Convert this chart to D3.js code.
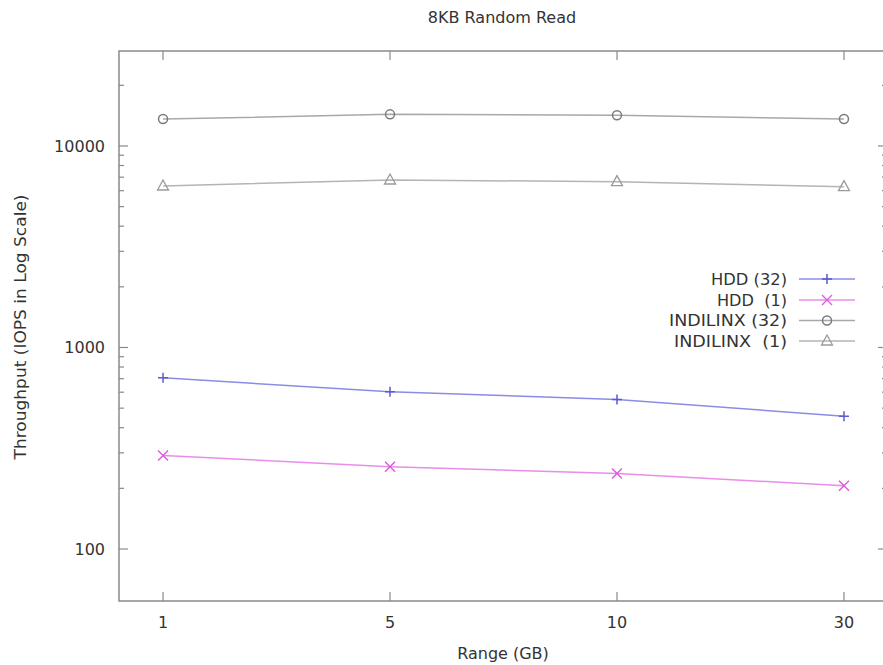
<!DOCTYPE html>
<html>
<head>
<meta charset="utf-8">
<script src="https://cdn.jsdelivr.net/npm/d3@7"></script>
<style>
  html, body { margin: 0; padding: 0; background: #fff; }
  svg { display: block; }
  text { font-family: "DejaVu Sans", sans-serif; fill: #333; }
</style>
</head>
<body>
<svg id="chart" width="883" height="665"></svg>
<script>
// ---- data ----
const categories = ["1", "5", "10", "30"];
const hdd32 = [707, 603, 552, 456];
const hdd1 = [291, 256, 237, 206];
const indilinx32 = [13600, 14350, 14200, 13600];
const indilinx1 = [6330, 6780, 6650, 6280];
const yMajorTicks = [100, 1000, 10000];
const yMinorTicks = [200, 300, 400, 500, 600, 700, 800, 900,
                     2000, 3000, 4000, 5000, 6000, 7000, 8000, 9000, 20000];
const seriesNames = ["HDD (32)", "HDD  (1)", "INDILINX (32)", "INDILINX  (1)"];

// ---- styling / layout ----
const series = [
  { name: seriesNames[0], values: hdd32, line: "#8c8ce6", mark: "#5a5ad2", shape: "plus" },
  { name: seriesNames[1], values: hdd1, line: "#ea8cea", mark: "#dc5adc", shape: "times" },
  { name: seriesNames[2], values: indilinx32, line: "#a8a8a8", mark: "#7a7a7a", shape: "circle" },
  { name: seriesNames[3], values: indilinx1, line: "#b4b4b4", mark: "#9a9a9a", shape: "triangle" }
];
const legendTextWidths = [76, 70, 118, 113];

const svg = d3.select("#chart");
const pL = 119, pR = 887, pT = 51, pB = 601;

const x = d3.scalePoint().domain(categories).range([pL, pR + 1]).padding(0.194);
const y = d3.scaleLog().domain([55.2, 29600]).range([pB, pT]);

// frame
svg.append("rect")
  .attr("x", pL).attr("y", pT)
  .attr("width", pR - pL).attr("height", pB - pT)
  .attr("fill", "none").attr("stroke", "#8a8a8a").attr("stroke-width", 1.5);

// y ticks (left and right, inward)
const tickG = svg.append("g").attr("stroke", "#8a8a8a").attr("stroke-width", 1.2);
function yTicks(vals, len) {
  tickG.selectAll(null).data(vals).enter().append("line")
    .attr("x1", pL).attr("x2", pL + len)
    .attr("y1", d => y(d)).attr("y2", d => y(d));
  tickG.selectAll(null).data(vals).enter().append("line")
    .attr("x1", pR).attr("x2", pR - len)
    .attr("y1", d => y(d)).attr("y2", d => y(d));
}
yTicks(yMajorTicks, 9);
yTicks(yMinorTicks, 5);

// x ticks (bottom and top, inward)
tickG.selectAll(null).data(categories).enter().append("line")
  .attr("x1", d => x(d)).attr("x2", d => x(d))
  .attr("y1", pB).attr("y2", pB - 9);
tickG.selectAll(null).data(categories).enter().append("line")
  .attr("x1", d => x(d)).attr("x2", d => x(d))
  .attr("y1", pT).attr("y2", pT + 9);

// tick labels
svg.append("g").selectAll("text").data(yMajorTicks).enter().append("text")
  .attr("x", 105).attr("y", d => y(d)).attr("dy", "0.36em")
  .attr("text-anchor", "end").attr("font-size", 16)
  .text(d => String(d));
svg.append("g").selectAll("text").data(categories).enter().append("text")
  .attr("x", d => x(d)).attr("y", 622).attr("dy", "0.36em")
  .attr("text-anchor", "middle").attr("font-size", 16)
  .text(d => d);

// titles
svg.append("text").attr("x", 502).attr("y", 17).attr("dy", "0.36em")
  .attr("text-anchor", "middle").attr("font-size", 16).text("8KB Random Read");
svg.append("text").attr("x", 503).attr("y", 653).attr("dy", "0.36em")
  .attr("text-anchor", "middle").attr("font-size", 16).text("Range (GB)");
svg.append("text")
  .attr("transform", "translate(20,327) rotate(-90)")
  .attr("dy", "0.36em")
  .attr("text-anchor", "middle").attr("font-size", 16)
  .attr("textLength", 265).attr("lengthAdjust", "spacingAndGlyphs")
  .text("Throughput (IOPS in Log Scale)");

// marker drawing
function marker(g, shape, cx, cy, color) {
  const s = 5;
  if (shape === "plus") {
    g.append("path").attr("d", `M${cx - s},${cy}H${cx + s}M${cx},${cy - s}V${cy + s}`)
      .attr("stroke", color).attr("stroke-width", 1.5).attr("fill", "none");
  } else if (shape === "times") {
    g.append("path").attr("d", `M${cx - s},${cy - s}L${cx + s},${cy + s}M${cx - s},${cy + s}L${cx + s},${cy - s}`)
      .attr("stroke", color).attr("stroke-width", 1.4).attr("fill", "none");
  } else if (shape === "circle") {
    g.append("circle").attr("cx", cx).attr("cy", cy).attr("r", 4.5)
      .attr("stroke", color).attr("stroke-width", 1.5).attr("fill", "none");
  } else if (shape === "triangle") {
    g.append("path").attr("d", `M${cx},${cy - 6}L${cx + 5.5},${cy + 4}L${cx - 5.5},${cy + 4}Z`)
      .attr("stroke", color).attr("stroke-width", 1.3).attr("fill", "none");
  }
}

const line = d3.line().x((d, i) => x(categories[i])).y(d => y(d));

series.forEach(s => {
  const g = svg.append("g");
  g.append("path").datum(s.values).attr("d", line)
    .attr("fill", "none").attr("stroke", s.line).attr("stroke-width", 1.5);
  s.values.forEach((v, i) => marker(g, s.shape, x(categories[i]), y(v), s.mark));
});

// legend
const legRows = [279, 300, 320.5, 341];
series.forEach((s, i) => {
  const g = svg.append("g");
  const ly = legRows[i];
  g.append("text").attr("x", 787).attr("y", ly).attr("dy", "0.36em")
    .attr("text-anchor", "end").attr("font-size", 16)
    .attr("textLength", legendTextWidths[i]).attr("lengthAdjust", "spacingAndGlyphs")
    .style("white-space", "pre")
    .text(s.name);
  g.append("line").attr("x1", 799).attr("x2", 855).attr("y1", ly).attr("y2", ly)
    .attr("stroke", s.line).attr("stroke-width", 1.5);
  marker(g, s.shape, 827, ly, s.mark);
});
</script>
</body>
</html>
